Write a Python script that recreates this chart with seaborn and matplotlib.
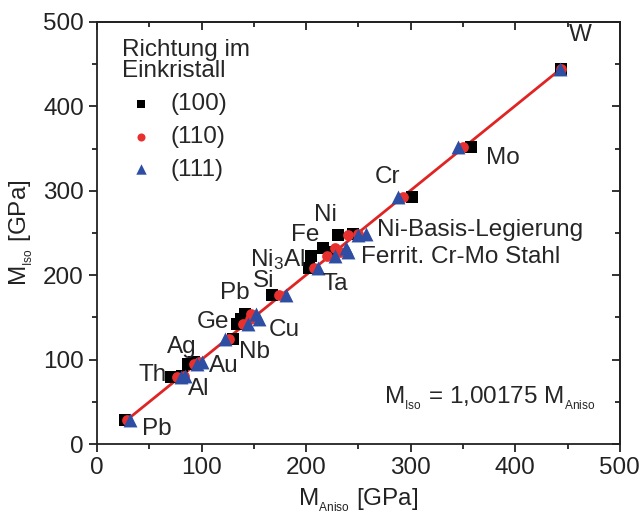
import pandas as pd
import numpy as np
import matplotlib
matplotlib.use("Agg")
import matplotlib.pyplot as plt
import seaborn as sns
from matplotlib.ticker import MultipleLocator

# Werkstoffe: isotroper Modul und anisotrope Moduln je Richtung (GPa)
materials = ["Pb", "Th", "Al", "Ag", "Au", "Nb", "Ge", "Pb2", "Cu", "Si", "Ta",
             "Ni3Al", "Fe", "Ferrit", "Ni", "NiBasis", "Cr", "Mo", "W"]
m_iso = [29, 79, 81, 95, 97, 125, 142, 154, 148, 176, 208,
         223, 232, 228, 247, 249, 293, 352, 444]
m_100 = [27, 71, 81, 87, 93, 130, 134, 141, 138, 167, 203,
         205, 216, 225, 230, 245, 301, 358, 444]
m_110 = [29, 76, 83, 93, 97, 126, 140, 147, 146, 174, 207,
         220, 228, 232, 240, 250, 293, 350, 444]
m_111 = [31, 80, 84, 96, 100, 122, 144, 152, 155, 181, 211,
         228, 238, 240, 250, 257, 288, 345, 443]
directions = ["(100)", "(110)", "(111)"]

fit_x = [25, 445]
fit_slope = 1.00175

labels = ["W", "Mo", "Cr", "Ni-Basis-Legierung", "Ferrit. Cr-Mo Stahl", "Ni", "Fe",
          "Ni$_3$Al", "Si", "Ta", "Pb", "Ge", "Cu", "Nb", "Au", "Ag", "Th", "Al", "Pb"]
label_x = [451, 372, 266, 268, 252, 207, 185, 199, 149, 216, 118, 95, 164, 136, 107, 67, 40, 87, 43]
label_y = [485, 339, 316, 254, 222, 271, 247, 219, 193, 190, 179, 144, 135, 109, 93, 115, 82, 65, 18]
label_ha = ["left"] * 7 + ["right"] + ["left"] * 11

rows = []
for d, vals in zip(directions, [m_100, m_110, m_111]):
    for m, xi, yi in zip(materials, vals, m_iso):
        rows.append({"Werkstoff": m, "Richtung": d, "M_aniso": xi, "M_iso": yi})
df = pd.DataFrame(rows)
fit_df = pd.DataFrame({"x": fit_x, "y": [fit_slope * v for v in fit_x]})

sns.set_style("ticks")
plt.rcParams['font.family'] = ['Liberation Sans', 'DejaVu Sans']
plt.rcParams['mathtext.fontset'] = 'custom'
plt.rcParams['mathtext.rm'] = 'Liberation Sans'
plt.rcParams['mathtext.it'] = 'Liberation Sans'

FS = 17.5

fig = plt.figure(figsize=(6.43, 5.2), dpi=100)
ax = fig.add_axes([0.151, 0.146, 0.813, 0.812])

sns.lineplot(data=fit_df, x="x", y="y", color="#e02424", linewidth=2, ax=ax, zorder=1)

palette = {"(100)": "black", "(110)": "#e8312f", "(111)": "#2d4ea3"}
markers = {"(100)": "s", "(110)": "o", "(111)": "^"}
sizes = {"(100)": 66, "(110)": 60, "(111)": 100}
for d in directions:
    sub = df[df["Richtung"] == d]
    sns.scatterplot(data=sub, x="M_aniso", y="M_iso", color=palette[d], marker=markers[d],
                    s=sizes[d], linewidth=0, ax=ax, label=d, zorder=2)

for t, x, y, ha in zip(labels, label_x, label_y, label_ha):
    ax.text(x, y, t, fontsize=FS, ha=ha, va="center")

ax.text(477, 54, r"M$_{_{\mathrm{Iso}}}$ = 1,00175 M$_{_{\mathrm{Aniso}}}$", fontsize=FS,
        ha="right", va="center")

ax.set_xlim(0, 500)
ax.set_ylim(0, 500)
ax.xaxis.set_major_locator(MultipleLocator(100))
ax.yaxis.set_major_locator(MultipleLocator(100))
ax.xaxis.set_minor_locator(MultipleLocator(50))
ax.yaxis.set_minor_locator(MultipleLocator(50))
ax.tick_params(which="both", direction="out", labelsize=FS, colors="#222222")
ax.tick_params(which="major", length=6, width=1.3)
ax.tick_params(which="minor", length=3.5, width=1.3)

# Spiegelachsen oben/rechts mit Ticks nach innen
top = ax.secondary_xaxis("top")
top.xaxis.set_major_locator(MultipleLocator(100))
top.xaxis.set_minor_locator(MultipleLocator(50))
right = ax.secondary_yaxis("right")
right.yaxis.set_major_locator(MultipleLocator(100))
right.yaxis.set_minor_locator(MultipleLocator(50))
for sec in (top, right):
    sec.tick_params(which="both", direction="in", labeltop=False, labelright=False, colors="#222222")
    sec.tick_params(which="major", length=6, width=1.3)
    sec.tick_params(which="minor", length=3.5, width=1.3)
    for sp in sec.spines.values():
        sp.set_linewidth(1.3)
        sp.set_color("#222222")
for sp in ax.spines.values():
    sp.set_linewidth(1.3)
    sp.set_color("#222222")

ax.set_xlabel(r"M$_{_{\mathrm{Aniso}}}$ [GPa]", fontsize=FS, labelpad=5, color="#222222")
ax.set_ylabel(r"M$_{_{\mathrm{Iso}}}$ [GPa]", fontsize=FS, labelpad=6, color="#222222")

leg = ax.legend(title="Richtung im\nEinkristall", loc="upper left", frameon=False,
                fontsize=FS, title_fontsize=FS, handletextpad=0.4, borderaxespad=0.3,
                labelspacing=0.45, handlelength=1.6, markerscale=0.75,
                bbox_to_anchor=(0.015, 1.0))
leg._legend_box.align = "left"
leg.get_title().set_linespacing(0.95)

fig.savefig("out.png", dpi=100)
